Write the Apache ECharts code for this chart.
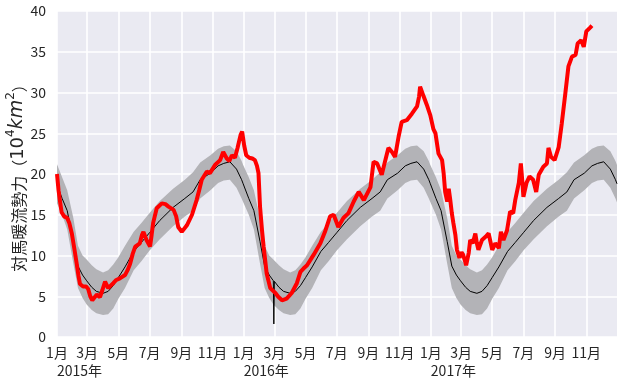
<!DOCTYPE html>
<html>
<head>
<meta charset="utf-8">
<script src="https://cdn.jsdelivr.net/npm/echarts@6/dist/echarts.min.js"></script>
<style>
html,body{margin:0;padding:0;background:#fff;}
#c{width:621px;height:384px;}
</style>
</head>
<body>
<div id="c"></div>
<script>
// ---- data ----
const START_DATE = '2015-01-01';
const N_DAYS = 1096;                 // 2015-01-01 .. 2017-12-31
const YEARS = [2015, 2016, 2017];
const Y_TICKS = [0, 5, 10, 15, 20, 25, 30, 35, 40];

// climatology (day of year): mean and ±1σ band
const CLIM_DOY  = [0, 10, 20, 32, 41, 50, 58, 68, 77, 90, 100, 110, 120, 133, 150, 165, 181, 201, 227, 250, 266, 280, 300, 315, 326, 338, 351, 361, 364];
const CLIM_MEAN = [18.7, 17.0, 15.5, 11.7, 8.7, 7.6, 6.9, 6.1, 5.6, 5.36, 5.6, 6.3, 7.3, 8.6, 10.5, 11.6, 12.8, 14.3, 15.9, 17.0, 17.8, 19.3, 20.1, 21.0, 21.3, 21.5, 20.6, 19.3, 18.8];
const CLIM_LO   = [16.4, 15.0, 13.2, 9.0, 6.0, 4.8, 4.0, 3.3, 2.9, 2.7, 2.8, 3.5, 4.7, 6.0, 8.2, 9.3, 10.6, 12.0, 13.6, 14.8, 15.5, 17.0, 18.0, 18.9, 19.2, 19.3, 18.3, 17.0, 16.5];
const CLIM_HI   = [21.2, 19.6, 18.0, 14.6, 11.2, 10.0, 9.5, 8.8, 8.3, 7.9, 8.2, 8.9, 9.8, 11.2, 12.9, 14.0, 15.2, 16.7, 18.2, 19.3, 20.2, 21.4, 22.3, 23.1, 23.4, 23.5, 22.8, 21.6, 21.1];
// leap-day glitch in the mean line (2016-02-29)
const LEAP_DATE = '2016-02-29';
const LEAP_MEAN = 1.6;

// observed values (days since 2015-01-01)
const OBS_DAY = [0,3,6,9,14,20,24,29,34,38,42,45,51,57,61,65,69,74,78,84,89,94,100,105,110,116,123,133,138,143,148,153,162,166,169,175,182,185,188,195,205,212,218,228,233,237,244,254,264,273,278,283,293,299,304,309,319,325,332,337,342,348,353,359,362,366,370,376,382,387,391,394,397,401,404,410,417,427,433,440,449,459,469,476,482,489,502,515,524,534,541,550,560,570,580,590,600,613,619,626,635,642,648,655,661,668,674,684,694,704,708,710,717,723,730,736,740,746,753,756,759,763,766,769,772,775,779,782,787,791,794,797,800,805,808,813,818,821,824,831,838,844,851,857,864,868,873,880,886,892,896,903,907,910,912,918,924,931,937,942,951,958,961,966,973,981,987,994,1000,1007,1014,1018,1025,1030,1035,1043,1046];
const OBS_VAL = [20.0,18.0,16.6,15.3,14.8,14.6,14.0,12.7,10.8,9.2,7.5,6.5,6.2,6.2,5.9,5.0,4.5,4.9,5.2,4.9,5.8,6.8,6.0,6.3,6.6,7.0,7.2,7.6,8.2,9.0,10.2,11.1,11.5,12.5,12.9,11.9,11.1,12.5,14.0,15.8,16.4,16.3,16.0,15.6,14.8,13.5,12.9,13.7,15.0,16.8,18.0,19.3,20.3,20.1,20.6,21.1,21.7,22.7,21.9,21.6,22.3,22.0,23.2,24.8,25.2,23.5,22.3,22.0,21.9,21.7,21.0,20.1,16.0,13.0,11.1,7.8,6.0,5.4,4.9,4.5,4.7,5.4,6.6,8.0,8.4,8.8,10.1,11.5,12.9,14.8,15.0,13.5,14.6,15.2,16.6,17.8,16.8,18.4,21.5,21.3,19.9,21.7,23.2,22.7,22.1,24.6,26.4,26.6,27.4,28.3,29.5,30.7,29.5,28.5,27.2,25.5,25.0,22.5,21.7,20.1,17.8,16.6,18.2,16.8,15.2,14.0,12.5,10.7,9.7,10.4,10.1,9.5,8.8,10.3,11.9,11.5,12.7,11.5,10.7,11.9,12.3,12.7,10.7,11.5,10.9,12.9,11.9,13.1,15.4,15.2,16.8,18.9,21.3,19.0,17.2,18.9,19.7,19.3,17.8,19.9,20.9,21.3,23.2,22.1,21.7,23.3,26.2,29.9,33.2,34.4,34.6,36.0,36.4,35.6,37.5,38.0,38.2];

// ---- build ----
function fmt(d){
  const m = d.getUTCMonth()+1, dd = d.getUTCDate();
  return d.getUTCFullYear()+'-'+(m<10?'0':'')+m+'-'+(dd<10?'0':'')+dd;
}
const t0 = Date.parse(START_DATE+'T00:00:00Z');
const categories = [];
for (let i = 0; i < N_DAYS; i++) categories.push(fmt(new Date(t0 + i*86400000)));

function yearStart(y){ return Math.round((Date.parse(y+'-01-01T00:00:00Z') - t0)/86400000); }
function isLeap(y){ return (y%4===0 && y%100!==0) || y%400===0; }

const meanData = [], loData = [], bandData = [];
YEARS.forEach(y => {
  const s = yearStart(y);
  CLIM_DOY.forEach((doy, k) => {
    const idx = s + doy + (isLeap(y) && doy >= 59 ? 1 : 0);
    if (idx > N_DAYS-1) return;
    meanData.push([idx, CLIM_MEAN[k]]);
    loData.push([idx, CLIM_LO[k]]);
    bandData.push([idx, +(CLIM_HI[k]-CLIM_LO[k]).toFixed(2)]);
  });
});
// insert leap-day glitch into mean line
(function(){
  const li = categories.indexOf(LEAP_DATE);
  let pos = meanData.findIndex(p => p[0] > li);
  const prev = meanData[pos-1], next = meanData[pos];
  const v = prev[1] + (next[1]-prev[1])*(li-prev[0])/(next[0]-prev[0]);
  meanData.splice(pos, 0, [li-1, +v.toFixed(2)], [li, LEAP_MEAN], [li+1, +v.toFixed(2)]);
})();

const obsData = OBS_DAY.map((d, i) => [d, OBS_VAL[i]]);

const FONT = '"Noto Sans CJK JP", "DejaVu Sans", sans-serif';
const TXT = '#262626';

function isOddMonthStart(idx){
  const v = categories[idx];
  if (!v) return false;
  const m = +v.slice(5,7), d = +v.slice(8,10);
  return d === 1 && m % 2 === 1;
}
function isYearStart(idx){
  const v = categories[idx];
  return !!v && v.slice(5) === '01-01';
}

const chart = echarts.init(document.getElementById('c'), null, {renderer:'canvas'});
chart.setOption({
  animation: false,
  backgroundColor: '#ffffff',
  grid: { left: 57, right: 4, top: 11, bottom: 47, show: true, backgroundColor: '#EAEAF2', borderWidth: 0,
          containLabel: false, outerBoundsMode: 'none' },
  xAxis: [{
    type: 'category', data: categories, boundaryGap: false,
    axisLine: {show:false}, axisTick: {show:false},
    axisLabel: {
      interval: isOddMonthStart, margin: 9, hideOverlap: false,
      color: TXT, fontSize: 14, fontFamily: FONT,
      formatter: v => (+v.slice(5,7)) + '月'
    },
    splitLine: { show: true, interval: isOddMonthStart, lineStyle: {color:'#ffffff', width: 1.6} }
  },{
    type: 'category', data: categories, boundaryGap: false, position: 'bottom',
    axisLine: {show:false}, axisTick: {show:false}, splitLine: {show:false},
    axisLabel: {
      interval: isYearStart, margin: 27, align: 'left',
      color: TXT, fontSize: 14, fontFamily: FONT,
      formatter: v => v.slice(0,4) + '年'
    }
  }],
  yAxis: {
    type: 'value', min: Y_TICKS[0], max: Y_TICKS[Y_TICKS.length-1], interval: 5,
    axisLine: {show:false}, axisTick: {show:false},
    axisLabel: { color: TXT, fontSize: 14, fontFamily: FONT, margin: 11 },
    splitLine: { lineStyle: {color:'#ffffff', width: 1.6} },
    name: '{c|対馬暖流勢力（}{n|10}{sup|4}{it|km}{sup|2}{c|）}',
    nameLocation: 'middle', nameRotate: 90, nameGap: 30, nameMoveOverlap: false,
    nameTextStyle: {
      color: TXT, fontSize: 16, fontFamily: FONT,
      rich: {
        c: { fontSize: 16, fontFamily: FONT, color: TXT, lineHeight: 22, verticalAlign: 'bottom' },
        n: { fontSize: 18, fontFamily: '"DejaVu Sans"', color: TXT, lineHeight: 22, verticalAlign: 'bottom' },
        sup: { fontSize: 12, fontFamily: '"DejaVu Sans"', verticalAlign: 'top', color: TXT, lineHeight: 12 },
        it: { fontSize: 19, fontFamily: '"DejaVu Sans"', fontStyle: 'italic', color: TXT, lineHeight: 22, verticalAlign: 'bottom' }
      }
    }
  },
  series: [
    { type: 'line', data: loData, stack: 'band', symbol: 'none', lineStyle: {width: 0, opacity: 0}, silent: true, z: 1 },
    { type: 'line', data: bandData, stack: 'band', symbol: 'none', lineStyle: {width: 0, opacity: 0},
      areaStyle: {color: '#B3B3B7', opacity: 1}, silent: true, z: 1 },
    { type: 'line', data: meanData, symbol: 'none', lineStyle: {color: '#000000', width: 1}, z: 2 },
    { type: 'line', data: obsData, symbol: 'none', lineStyle: {color: '#FF0000', width: 4}, z: 3 }
  ]
});
</script>
</body>
</html>
